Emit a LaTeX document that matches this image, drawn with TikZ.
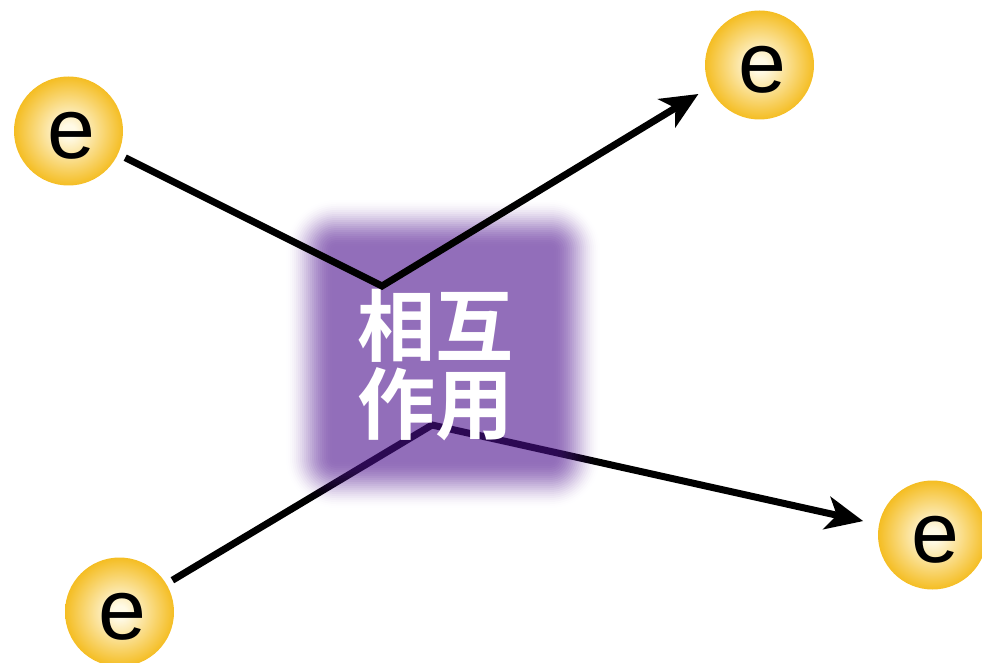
\documentclass[tikz,border=0pt]{standalone}
\usepackage{fontspec}
\setmainfont{Liberation Sans}
\newfontfamily\cjk{Noto Sans CJK SC Bold}
\usetikzlibrary{arrows.meta}
\definecolor{ballout}{RGB}{243,181,8}
\definecolor{ballin}{RGB}{255,250,230}
\definecolor{glow}{RGB}{82,24,145}
\pgfdeclareradialshading{eball}{\pgfpoint{0bp}{0bp}}{color(0bp)=(ballin); color(3bp)=(ballin); color(28bp)=(ballout); color(50bp)=(ballout)}
\begin{document}
\begin{tikzpicture}[x=1pt,y=-1pt,
  electron/.style={circle, minimum size=109pt, inner sep=0pt, shading=eball},
  etext/.style={font=\fontsize{86}{86}\selectfont, inner sep=0pt},
  wire/.style={line width=7pt, line join=miter},
  tip/.style={-{Stealth[length=37pt,width=33pt,inset=10pt]}},
  label/.style={text=white, font=\cjk\fontsize{78}{78}\selectfont, align=center, inner sep=0pt}]
\useasboundingbox (0,0) rectangle (982,663);
\node[electron] (e1) at (68.5,131) {};
\node[electron] (e2) at (759.5,65) {};
\node[electron] (e3) at (119.5,612) {};
\node[electron] (e4) at (932.5,535) {};
\node[etext] (t1) at ([xshift=3pt,yshift=-5pt]e1.center) {e};
\node[etext] (t2) at ([xshift=3pt,yshift=-5pt]e2.center) {e};
\node[etext] (t3) at ([xshift=3pt,yshift=-5pt]e3.center) {e};
\node[etext] (t4) at ([xshift=3pt,yshift=-5pt]e4.center) {e};
\coordinate (v1) at (382,286);
\coordinate (v2) at (432,425);
% lower connectors (beneath the glow)
\draw[wire, tip, shorten <=7pt, shorten >=16pt] (e3.31) -- (v2) -- (e4.169);
% blurred interaction square
\foreach \i in {1,...,24} {
  \pgfmathsetmacro\ta{0.62*((\i/24)^2*(3-2*\i/24))}
  \pgfmathsetmacro\tb{0.62*(((\i-1)/24)^2*(3-2*(\i-1)/24))}
  \pgfmathsetmacro\al{(\ta-\tb)/(1-\tb)}
  \pgfmathsetmacro\d{2*(\i-1)}
  \pgfmathsetmacro\rr{max(2,50-\d)}
  \fill[glow, opacity=\al, rounded corners=\rr pt] (286+\d,200+\d) rectangle (600-\d,508-\d);
}
\node[label] (txt) at (435,365) {相互\\作用};
% upper connectors
\draw[wire, tip, shorten <=8pt, shorten >=13pt] (e1.-25) -- (v1) -- (e2.204);
\end{tikzpicture}
\end{document}
